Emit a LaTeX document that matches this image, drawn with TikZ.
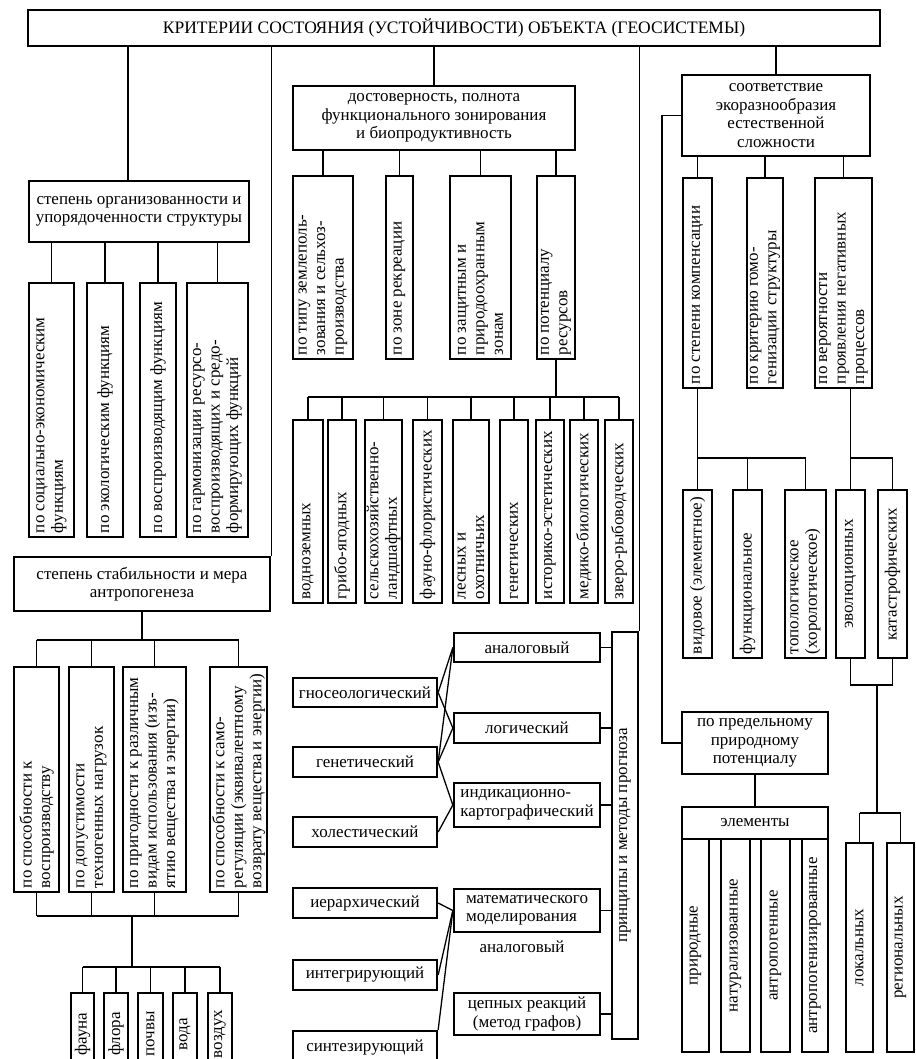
\documentclass[tikz,border=0pt]{standalone}
\usepackage{graphicx}
\usepackage{fontspec}
\setmainfont{Liberation Serif}
\newcommand{\bodyfont}{\fontsize{17}{18.5}\selectfont}
\newcommand{\titlefont}{\fontsize{17.5}{20}\selectfont}
% vertical cell: [alignment]{name}{x,y}{width}{height}{text}
\newcommand{\vcell}[6][\raggedright]{%
  \node[vb, minimum width=#4pt, minimum height=#5pt] (#2) at (#3)
    {\rotatebox{90}{\parbox{\dimexpr#5pt-8pt\relax}{#1 #6}}};}
\tikzset{
  box/.style={draw, line width=2.3pt, inner sep=2pt, font=\bodyfont, align=center},
  vb/.style={box, inner sep=0pt},
  conn/.style={line width=1.3pt},
}
\begin{document}
\begin{tikzpicture}[x=1pt, y=-1pt]
\useasboundingbox (0,0) rectangle (915,1059);
\clip (0,0) rectangle (915,1059);
\fill[white] (0,0) rectangle (915,1059);

% ---------- root ----------
\node[box, font=\titlefont, minimum width=852pt, minimum height=36pt] (T) at (454,28)
  {КРИТЕРИИ СОСТОЯНИЯ (УСТОЙЧИВОСТИ) ОБЪЕКТА (ГЕОСИСТЕМЫ)};

% ---------- organisation of structure ----------
\node[box, minimum width=220pt, minimum height=61pt] (B1) at (139,211.5)
  {степень организованности и\\упорядоченности структуры};
\vcell{a}{51.5,410}{45}{254}{по социально-экономическим\\функциям}
\vcell{b}{105,410}{36}{254}{по экологическим функциям}
\vcell{c}{158,410}{36}{254}{по воспроизводящим функциям}
\vcell{d}{217.5,410}{61}{254}{по гармонизации ресурсо-\\воспроизводящих и средо-\\формирующих функций}

% ---------- stability ----------
\node[box, minimum width=256pt, minimum height=54pt] (B2) at (142,584)
  {степень стабильности и мера\\антропогенеза};
\vcell{e}{36.5,779.5}{45}{225}{по способности к\\воспроизводству}
\vcell{f}{91.5,779.5}{45}{225}{по допустимости\\техногенных нагрузок}
\vcell{g}{154.5,779.5}{63}{225}{по пригодности к различным\\видам использования (изъ-\\ятию вещества и энергии)}
\vcell{h}{238.5,779.5}{57}{225}{по способности к само-\\регуляции (эквивалентному\\возврату вещества и энергии)}
\vcell[\centering]{fa}{82.5,1034}{23}{82}{фауна}
\vcell[\centering]{fl}{116,1034}{24}{82}{флора}
\vcell[\centering]{po}{150.5,1034}{25}{82}{почвы}
\vcell[\centering]{vd}{185,1034}{24}{82}{вода}
\vcell[\centering]{vz}{220,1034}{24}{82}{воздух}

% ---------- zoning ----------
\node[box, minimum width=282pt, minimum height=64pt] (B3) at (434,118)
  {достоверность, полнота\\функционального зонирования\\и биопродуктивность};
\vcell{i}{323,267.5}{60}{183}{по типу землеполь-\\зования и сельхоз-\\производства}
\vcell{j}{399.5,267.5}{27}{183}{по зоне рекреации}
\vcell{k}{480.5,267.5}{61}{183}{по защитным и\\природоохранным\\зонам}
\vcell{l}{556,267.5}{38}{183}{по потенциалу\\ресурсов}
\vcell{r1}{308,511.5}{30}{183}{водноземных}
\vcell{r2}{342,511.5}{28}{183}{грибо-ягодных}
\vcell{r3}{383.5,511.5}{37}{183}{сельскохозяйственно-\\ландшафтных}
\vcell{r4}{427.5,511.5}{29}{183}{фауно-флористических}
\vcell{r5}{471,511.5}{36}{183}{лесных и\\охотничьих}
\vcell{r6}{514,511.5}{28}{183}{генетических}
\vcell{r7}{550,511.5}{28}{183}{историко-эстетических}
\vcell{r8}{584,511.5}{28}{183}{медико-биологических}
\vcell{r9}{619,511.5}{28}{183}{зверо-рыбоводческих}

% ---------- forecasting ----------
\vcell[\centering]{P}{625,835.5}{26}{407}{принципы и методы прогноза}
\node[box, minimum width=146pt, minimum height=29pt] (an) at (527,647.5) {аналоговый};
\node[box, minimum width=146pt, minimum height=30pt] (lo) at (527,728) {логический};
\node[box, align=left, minimum width=146pt, minimum height=44pt] (ind) at (527,805)
  {индикационно-\\картографический};
\node[box, minimum width=144pt, minimum height=29pt] (gn) at (365,692.5) {гносеологический};
\node[box, minimum width=144pt, minimum height=30pt] (ge) at (365,762) {генетический};
\node[box, minimum width=144pt, minimum height=30pt] (ho) at (365,832) {холестический};
\node[box, align=left, minimum width=146pt, minimum height=43pt] (ma) at (527,910.5)
  {математического\\моделирования};
\node[font=\bodyfont] (anf) at (522,947) {аналоговый};
\node[box, minimum width=146pt, minimum height=42pt] (ce) at (527,1014)
  {цепных реакций\\(метод графов)};
\node[box, minimum width=144pt, minimum height=30pt] (ie) at (365,903) {иерархический};
\node[box, minimum width=144pt, minimum height=30pt] (it) at (365,975) {интегрирующий};
\node[box, minimum width=144pt, minimum height=34pt] (si) at (365,1048) {синтезирующий};

% ---------- eco-diversity ----------
\node[box, minimum width=188pt, minimum height=81pt] (B4) at (776,115.5)
  {соответствие\\экоразнообразия\\естественной\\сложности};
\vcell{m}{697.5,283}{29}{210}{по степени компенсации}
\vcell{n}{765,283}{36}{210}{по критерию гомо-\\генизации структуры}
\vcell{o}{843.5,283}{57}{210}{по вероятности\\проявления негативных\\процессов}
\vcell{p1}{697.5,574}{29}{168}{видовое (элементное)}
\vcell{p2}{747.5,574}{29}{168}{функциональное}
\vcell{p3}{805.5,574}{41}{168}{топологическое\\(хорологическое)}
\vcell[\centering]{q1}{850.5,574}{29}{168}{эволюционных}
\vcell[\centering]{q2}{892.5,574}{29}{168}{катастрофических}
\vcell[\centering]{s1}{859.5,947.5}{27}{209}{локальных}
\vcell[\centering]{s2}{900.5,947.5}{27}{209}{региональных}
\node[box, minimum width=146pt, minimum height=62pt] (U) at (755,743)
  {по предельному\\природному\\потенциалу};
\node[box, minimum width=146pt, minimum height=32pt] (E) at (755,823) {элементы};
\vcell[\centering]{e1}{695.5,945.5}{27}{213}{природные}
\vcell[\centering]{e2}{735.5,945.5}{29}{213}{натурализованные}
\vcell[\centering]{e3}{775.5,945.5}{29}{213}{антропогенные}
\vcell[\centering]{e4}{815,945.5}{26}{213}{антропогенизированные}

% ---------- connectors ----------
\coordinate (xB1) at (128,0);
\draw[conn] (T.south -| xB1) -- (B1.north -| xB1);
\draw[conn] (T.south -| B2.north east) -- (B2.north east);
\draw[conn] (T.south -| B3.north) -- (B3.north);
\draw[conn] (T.south -| P.north east) -- (P.north east);
\draw[conn] (T.south -| B4.north) -- (B4.north);

\foreach \n in {a,b,c,d} \draw[conn] (B1.south -| \n.north) -- (\n.north);

\coordinate (busA) at (0,640);
\draw[conn] (B2.south) -- (B2.south |- busA);
\draw[conn] (e.north |- busA) -- (h.north |- busA);
\foreach \n in {e,f,g,h} \draw[conn] (\n.north |- busA) -- (\n.north);
\coordinate (busB) at (0,916);
\foreach \n in {e,f,g,h} \draw[conn] (\n.south) -- (\n.south |- busB);
\draw[conn] (e.south |- busB) -- (h.south |- busB);
\coordinate (tkA) at (132,916);
\coordinate (tkB) at (132,967);
\draw[conn] (tkA) -- (tkB);
\draw[conn] (fa.north |- tkB) -- (vz.north |- tkB);
\foreach \n in {fa,fl,po,vd,vz} \draw[conn] (\n.north |- tkB) -- (\n.north);

\foreach \n in {i,j,k,l} \draw[conn] (B3.south -| \n.north) -- (\n.north);
\coordinate (busR) at (0,397);
\draw[conn] (l.south) -- (l.south |- busR);
\draw[conn] (r1.north |- busR) -- (r9.north |- busR);
\foreach \n in {r1,r2,r3,r4,r5,r6,r7,r8,r9} \draw[conn] (\n.north |- busR) -- (\n.north);

\foreach \n in {an,lo,ind,ma,ce} \draw[conn] (\n.east) -- (\n.east -| P.west);
\draw[conn] (gn.east) -- (an.west);
\draw[conn] (gn.east) -- (lo.west);
\draw[conn] (ge.east) -- (an.west);
\draw[conn] (ge.east) -- (lo.west);
\draw[conn] (ge.east) -- (ind.west);
\draw[conn] (ho.east) -- (ind.west);
\draw[conn] (ie.east) -- (ma.west);
\draw[conn] (it.east) -- (ma.west);
\draw[conn] (si.north east) -- (ma.west);

\foreach \n in {m,n,o} \draw[conn] (B4.south -| \n.north) -- (\n.north);
\coordinate (busM) at (0,458);
\draw[conn] (m.south) -- (m.south |- busM);
\draw[conn] (p1.north |- busM) -- (p3.north |- busM);
\foreach \n in {p1,p2,p3} \draw[conn] (\n.north |- busM) -- (\n.north);
\draw[conn] (o.south -| q1.north) -- (q1.north);
\draw[conn] (q1.north |- busM) -- (q2.north |- busM) -- (q2.north);
\coordinate (busQ) at (0,685);
\draw[conn] (q1.south) -- (q1.south |- busQ) -- (q2.south |- busQ) -- (q2.south);
\coordinate (tkC) at (877,685);
\coordinate (tkD) at (877,813);
\draw[conn] (tkC) -- (tkD);
\draw[conn] (s1.north |- tkD) -- (s2.north |- tkD);
\foreach \n in {s1,s2} \draw[conn] (\n.north |- tkD) -- (\n.north);

\draw[conn] (B4.west) -- ++(-19,0) |- (U.west);
\draw[conn] (U.south) -- (E.north);
\end{tikzpicture}
\end{document}
